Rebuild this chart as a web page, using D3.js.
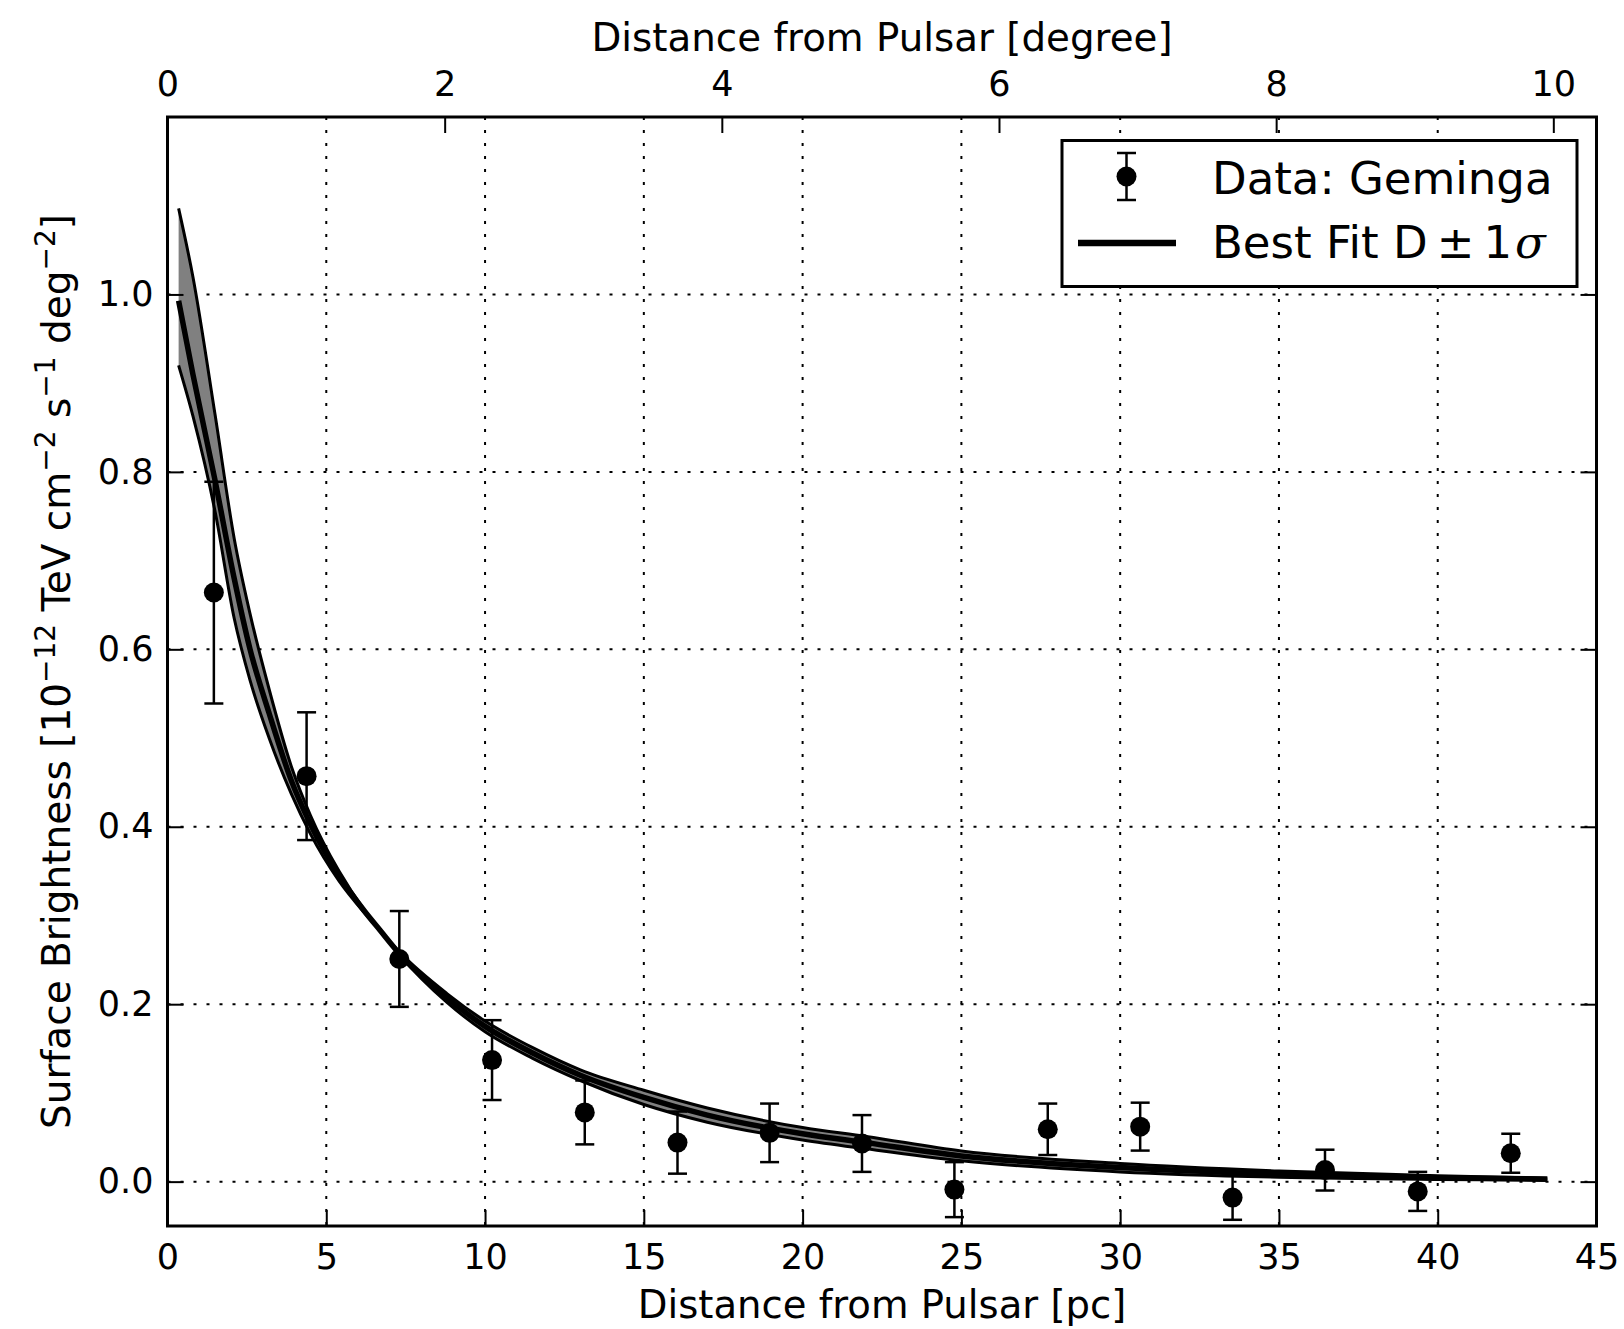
<!DOCTYPE html>
<html>
<head>
<meta charset="utf-8">
<script src="https://cdn.jsdelivr.net/npm/d3@7"></script>
<style>
  html, body { margin: 0; padding: 0; background: #fff; }
  svg { display: block; font-family: "DejaVu Sans", sans-serif; }
</style>
</head>
<body>
<div id="chart"></div>
<script>
// Geminga surface brightness profile

// data points (distance in pc, brightness, 1 sigma error)
const pointPc = [1.46, 4.38, 7.30, 10.22, 13.14, 16.06, 18.96, 21.87, 24.78, 27.72, 30.63, 33.54, 36.45, 39.37, 42.30];
const pointSB = [0.664, 0.457, 0.251, 0.137, 0.078, 0.044, 0.055, 0.043, -0.009, 0.059, 0.062, -0.018, 0.013, -0.011, 0.032];
const pointErr = [0.125, 0.072, 0.054, 0.045, 0.036, 0.035, 0.033, 0.032, 0.031, 0.029, 0.027, 0.025, 0.023, 0.022, 0.022];

// best fit curve and the +-1 sigma curves
const curvePc = [0.35, 0.8, 1.5, 2.1, 2.6, 3.2, 3.9, 4.5, 5.4, 6.2, 6.7, 7.3, 8.8, 10, 11.5, 13, 15, 17, 20, 22, 25, 30, 35, 40, 43.45];
const curveBest = [0.993, 0.91, 0.79, 0.68, 0.60, 0.528, 0.452, 0.403, 0.345, 0.305, 0.283, 0.257, 0.207, 0.175, 0.145, 0.120, 0.095, 0.075, 0.054, 0.044, 0.029, 0.016, 0.0085, 0.0045, 0.0028];
const curveNarrow = [1.097, 1.02, 0.864, 0.725, 0.64, 0.555, 0.468, 0.413, 0.350, 0.306, 0.283, 0.256, 0.202, 0.169, 0.139, 0.114, 0.087, 0.067, 0.047, 0.037, 0.0235, 0.011, 0.005, 0.0025, 0.0016];
const curveWide = [0.92, 0.863, 0.755, 0.635, 0.565, 0.50, 0.437, 0.392, 0.339, 0.303, 0.283, 0.259, 0.212, 0.181, 0.151, 0.126, 0.103, 0.083, 0.061, 0.051, 0.0345, 0.0205, 0.012, 0.0065, 0.004];

// axis ticks
const pcTicks = [0, 5, 10, 15, 20, 25, 30, 35, 40, 45];
const degTicks = [0, 2, 4, 6, 8, 10];
const sbTicks = [0.0, 0.2, 0.4, 0.6, 0.8, 1.0];
const pcPerDegree = 4.364; // 250 pc * tan(1 deg)

const W = 1624, H = 1329;
const plotL = 167.5, plotR = 1596.5, plotT = 117, plotB = 1226;

const svg = d3.select('#chart').append('svg')
  .attr('width', W)
  .attr('height', H);

const x = d3.scaleLinear().domain([0, 45]).range([plotL, plotR]);
const xDeg = d3.scaleLinear().domain([0, 45 / pcPerDegree]).range([plotL, plotR]);
const y = d3.scaleLinear().domain([-0.05, 1.2]).range([plotB, plotT]);

svg.append('defs').append('clipPath').attr('id', 'plot-clip')
  .append('rect')
  .attr('x', plotL).attr('y', plotT)
  .attr('width', plotR - plotL).attr('height', plotB - plotT);

// grid (dotted)
const grid = svg.append('g').attr('stroke', '#000').attr('stroke-width', 2).attr('stroke-dasharray', '3 10');
grid.selectAll('line.gx')
  .data(pcTicks.filter(d => d > 0 && d < 45))
  .join('line')
  .attr('class', 'gx')
  .attr('x1', d => x(d)).attr('x2', d => x(d))
  .attr('y1', plotT).attr('y2', plotB);
grid.selectAll('line.gy')
  .data(sbTicks)
  .join('line')
  .attr('class', 'gy')
  .attr('x1', plotL).attr('x2', plotR)
  .attr('y1', d => y(d)).attr('y2', d => y(d));

// band + curves
const plot = svg.append('g').attr('clip-path', 'url(#plot-clip)');

const band = d3.area()
  .x((d, i) => x(curvePc[i]))
  .y0((d, i) => y(curveWide[i]))
  .y1((d, i) => y(curveNarrow[i]))
  .curve(d3.curveMonotoneX);

const line = d3.line()
  .x((d, i) => x(curvePc[i]))
  .y(d => y(d))
  .curve(d3.curveMonotoneX);

plot.append('path')
  .datum(curvePc)
  .attr('d', band)
  .attr('fill', '#808080');

[curveNarrow, curveWide].forEach(c => {
  plot.append('path')
    .datum(c)
    .attr('d', line)
    .attr('fill', 'none')
    .attr('stroke', '#000')
    .attr('stroke-width', 3);
});

plot.append('path')
  .datum(curveBest)
  .attr('d', line)
  .attr('fill', 'none')
  .attr('stroke', '#000')
  .attr('stroke-width', 5.5);

// error bars and points
const pts = pointPc.map((p, i) => ({ pc: p, sb: pointSB[i], err: pointErr[i] }));
const eb = plot.append('g').attr('stroke', '#000').attr('stroke-width', 2.5);
eb.selectAll('line.bar')
  .data(pts)
  .join('line')
  .attr('class', 'bar')
  .attr('x1', d => x(d.pc)).attr('x2', d => x(d.pc))
  .attr('y1', d => y(d.sb - d.err)).attr('y2', d => y(d.sb + d.err));
eb.selectAll('line.capTop')
  .data(pts)
  .join('line')
  .attr('class', 'capTop')
  .attr('x1', d => x(d.pc) - 9.5).attr('x2', d => x(d.pc) + 9.5)
  .attr('y1', d => y(d.sb + d.err)).attr('y2', d => y(d.sb + d.err));
eb.selectAll('line.capBot')
  .data(pts)
  .join('line')
  .attr('class', 'capBot')
  .attr('x1', d => x(d.pc) - 9.5).attr('x2', d => x(d.pc) + 9.5)
  .attr('y1', d => y(d.sb - d.err)).attr('y2', d => y(d.sb - d.err));
plot.selectAll('circle')
  .data(pts)
  .join('circle')
  .attr('cx', d => x(d.pc))
  .attr('cy', d => y(d.sb))
  .attr('r', 10)
  .attr('fill', '#000');

// axes (ticks inside, on all four sides)
function styleAxis(g, size) {
  g.select('.domain').remove();
  g.selectAll('.tick line').attr('stroke', '#000').attr('stroke-width', 2);
  g.selectAll('.tick text').attr('fill', '#000').attr('font-size', size)
    .attr('font-family', '"DejaVu Sans", sans-serif');
}

svg.append('g')
  .attr('transform', `translate(0,${plotB})`)
  .call(d3.axisBottom(x).tickValues(pcTicks).tickFormat(d3.format('d')).tickSize(-16).tickPadding(18))
  .call(g => styleAxis(g, 35));

svg.append('g')
  .attr('transform', `translate(0,${plotT})`)
  .call(d3.axisTop(xDeg).tickValues(degTicks).tickFormat(d3.format('d')).tickSize(-16).tickPadding(21))
  .call(g => styleAxis(g, 35));

svg.append('g')
  .attr('transform', `translate(${plotL},0)`)
  .call(d3.axisLeft(y).tickValues(sbTicks).tickFormat(d3.format('.1f')).tickSize(-16).tickPadding(14))
  .call(g => styleAxis(g, 35));

svg.append('g')
  .attr('transform', `translate(${plotR},0)`)
  .call(d3.axisRight(y).tickValues(sbTicks).tickFormat('').tickSize(-16))
  .call(g => styleAxis(g, 35));

// frame
svg.append('rect')
  .attr('x', plotL).attr('y', plotT)
  .attr('width', plotR - plotL).attr('height', plotB - plotT)
  .attr('fill', 'none')
  .attr('stroke', '#000')
  .attr('stroke-width', 3);

// axis labels
svg.append('text')
  .attr('x', (plotL + plotR) / 2)
  .attr('y', 1318)
  .attr('text-anchor', 'middle')
  .attr('font-size', 38.6)
  .text('Distance from Pulsar [pc]');

svg.append('text')
  .attr('x', (plotL + plotR) / 2)
  .attr('y', 51)
  .attr('text-anchor', 'middle')
  .attr('font-size', 38.8)
  .text('Distance from Pulsar [degree]');

const yl = svg.append('text')
  .attr('transform', `translate(70,${(plotT + plotB) / 2}) rotate(-90)`)
  .attr('text-anchor', 'middle')
  .attr('font-size', 39);
const ylParts = [
  ['Surface Brightness [10', false], ['\u221212', true],
  [' TeV cm', false], ['\u22122', true],
  [' s', false], ['\u22121', true],
  [' deg', false], ['\u22122', true],
  [']', false]
];
ylParts.forEach(([t, sup], i) => {
  const prevSup = i > 0 && ylParts[i - 1][1];
  const ts = yl.append('tspan').text(t);
  if (sup) ts.attr('font-size', 28).attr('dy', -15.5);
  else if (prevSup) ts.attr('dy', 15.5);
});

// legend
const leg = svg.append('g');
leg.append('rect')
  .attr('x', 1062).attr('y', 140.5)
  .attr('width', 515).attr('height', 146)
  .attr('fill', '#fff')
  .attr('stroke', '#000')
  .attr('stroke-width', 3);
leg.append('line')
  .attr('x1', 1126.5).attr('x2', 1126.5).attr('y1', 153).attr('y2', 200)
  .attr('stroke', '#000').attr('stroke-width', 2.5);
[153, 200].forEach(v => {
  leg.append('line')
    .attr('x1', 1117).attr('x2', 1136).attr('y1', v).attr('y2', v)
    .attr('stroke', '#000').attr('stroke-width', 2.5);
});
leg.append('circle').attr('cx', 1126.5).attr('cy', 176.5).attr('r', 10).attr('fill', '#000');
leg.append('line')
  .attr('x1', 1078).attr('x2', 1176).attr('y1', 243).attr('y2', 243)
  .attr('stroke', '#000').attr('stroke-width', 6.5);
leg.append('text')
  .attr('x', 1212).attr('y', 194)
  .attr('font-size', 45)
  .text('Data: Geminga');
const lt = leg.append('text')
  .attr('x', 1212).attr('y', 258)
  .attr('font-size', 45);
lt.append('tspan').text('Best Fit D');
lt.append('tspan').attr('dx', 9).text('\u00b1');
lt.append('tspan').attr('dx', 9).text('1');
lt.append('tspan').attr('dx', 3).attr('font-family', '"DejaVu Serif", serif').attr('font-style', 'italic').text('\u03c3');
</script>
</body>
</html>
